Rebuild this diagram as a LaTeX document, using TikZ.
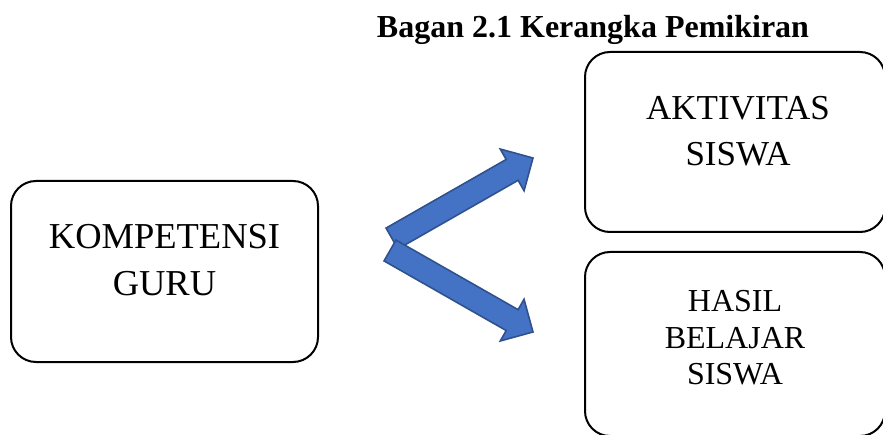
\documentclass[tikz,border=0pt]{standalone}
\usepackage{fontspec}
\setmainfont{Liberation Serif}
\usepackage{tikz}
\usetikzlibrary{calc,positioning}
\usepackage{xcolor}
\definecolor{officeblue}{HTML}{4472C4}
\definecolor{officeedge}{HTML}{2F528F}

\begin{document}
\begin{tikzpicture}[x=1pt,y=1pt]
        % Define the styles
        \tikzstyle{box}=[rectangle, draw, line width=2pt, rounded corners=25pt, inner sep=0pt]
        \tikzstyle{label}=[align=center, inner sep=0pt]
        \tikzstyle{blockarrow}=[fill=officeblue, draw=officeedge, line width=1.6pt, line join=miter]

        % Page size
        \useasboundingbox (0,0) rectangle (883,434);

        % Title
        \node (title)[anchor=base, inner sep=0pt, font=\fontsize{32}{38}\selectfont\bfseries] at (593,396) {Bagan 2.1 Kerangka Pemikiran};

        % Boxes
        \node (kompetensi)[box, minimum width=307pt, minimum height=181pt] at (164.5,162.5) {};
        \node (aktivitas)[box, minimum width=300pt, minimum height=180pt] at (735,292) {};
        \node (hasil)[box, minimum width=300pt, minimum height=184pt] at (735,90) {};

        % Box texts
        \node (kompetensitext)[label, font=\fontsize{36.5}{47}\selectfont] at (164.5,174) {KOMPETENSI\\GURU};
        \node (aktivitastext)[label, font=\fontsize{35}{46}\selectfont] at (738,302.5) {AKTIVITAS\\SISWA};
        \node (hasiltext)[label, font=\fontsize{32}{36.5}\selectfont] at (735,96) {HASIL\\BELAJAR\\SISWA};

        % Arrow ends
        \coordinate (uptail) at (392,195.5);
        \coordinate (uptip) at (533,276);
        \coordinate (downtail) at (390,183.5);
        \coordinate (downtip) at (533,102);
        \coordinate (uphead) at ($(uptip)!24pt!(uptail)$);
        \coordinate (downhead) at ($(downtip)!24pt!(downtail)$);

        % Upper block arrow
        \draw[blockarrow] ($(uptail)!12pt!90:(uptip)$) -- ($(uphead)!12pt!90:(uptip)$)
            -- ($(uphead)!24pt!90:(uptip)$) -- (uptip) -- ($(uphead)!24pt!-90:(uptip)$)
            -- ($(uphead)!12pt!-90:(uptip)$) -- ($(uptail)!12pt!-90:(uptip)$) -- cycle;

        % Lower block arrow
        \draw[blockarrow] ($(downtail)!12pt!90:(downtip)$) -- ($(downhead)!12pt!90:(downtip)$)
            -- ($(downhead)!24pt!90:(downtip)$) -- (downtip) -- ($(downhead)!24pt!-90:(downtip)$)
            -- ($(downhead)!12pt!-90:(downtip)$) -- ($(downtail)!12pt!-90:(downtip)$) -- cycle;
    \end{tikzpicture}
\end{document}
